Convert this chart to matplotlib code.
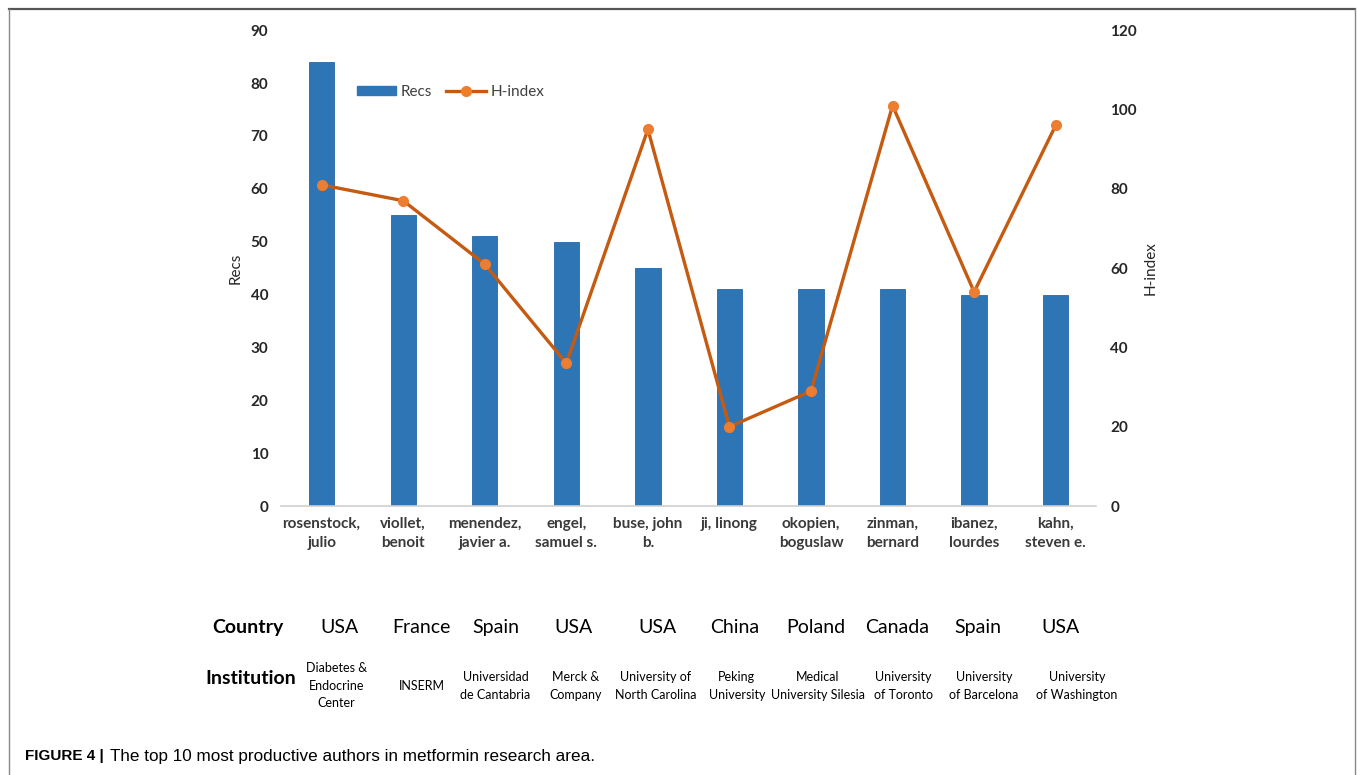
import numpy as np
import matplotlib
matplotlib.use('Agg')
import matplotlib.pyplot as plt
from matplotlib.lines import Line2D
from matplotlib.patches import Patch

plt.rcParams['font.family'] = ['Lato', 'DejaVu Sans']

# datos
authors = ['rosenstock,\njulio', 'viollet,\nbenoit', 'menendez,\njavier a.', 'engel,\nsamuel s.',
           'buse, john\nb.', 'ji, linong', 'okopien,\nboguslaw', 'zinman,\nbernard',
           'ibanez,\nlourdes', 'kahn,\nsteven e.']
recs = [84, 55, 51, 50, 45, 41, 41, 41, 40, 40]
hindex = [81, 77, 61, 36, 95, 20, 29, 101, 54, 96]
countries = ['USA', 'France', 'Spain', 'USA', 'USA', 'China', 'Poland', 'Canada', 'Spain', 'USA']
institutions = ['Diabetes &\nEndocrine\nCenter', 'INSERM', 'Universidad\nde Cantabria', 'Merck &\nCompany',
                'University of\nNorth Carolina', 'Peking\nUniversity', 'Medical\nUniversity Silesia',
                'University\nof Toronto', 'University\nof Barcelona', 'University\nof Washington']

# desplazamiento de las filas de texto bajo el grafico (en unidades de categoria)
country_shift = [0.22, 0.22, 0.13, 0.09, 0.12, 0.07, 0.06, 0.05, 0.05, 0.06]
inst_shift = [0.18, 0.23, 0.13, 0.11, 0.10, 0.09, 0.08, 0.13, 0.12, 0.26]

BLUE = '#2E75B6'
LINE = '#C55A11'
MARK = '#ED7D31'
TXT = '#262626'

fig = plt.figure(figsize=(13.57, 7.75), dpi=100)
ax = fig.add_axes([0.207, 0.347, 0.601, 0.614])
x = np.arange(len(authors))

ax.bar(x, recs, width=0.31, color=BLUE, edgecolor='#2568A8', linewidth=0.6, zorder=2)
ax.set_xlim(-0.5, len(authors) - 0.5)
ax.set_ylim(0, 90)
ax.set_yticks(range(0, 91, 10))
ax.set_xticks(x)
ax.set_xticklabels(authors, fontsize=11, fontweight='bold', color='#3a3a3a', linespacing=1.45)
ax.tick_params(axis='x', length=0, pad=8)
ax.tick_params(axis='y', length=0, pad=9, labelsize=11, labelcolor=TXT)
for lab in ax.get_yticklabels():
    lab.set_fontweight('bold')
for s in ['top', 'left', 'right']:
    ax.spines[s].set_visible(False)
ax.spines['bottom'].set_color('#d0d0d0')
ax.spines['bottom'].set_linewidth(1.2)
ax.set_ylabel('Recs', fontsize=11, color=TXT)
ax.yaxis.set_label_coords(-0.047, 0.5)

ax2 = ax.twinx()
ax2.plot(x, hindex, color=LINE, linewidth=2.4, marker='o', markersize=7,
         markerfacecolor=MARK, markeredgecolor=MARK, zorder=3)
ax2.set_ylim(0, 120)
ax2.set_yticks(range(0, 121, 20))
ax2.tick_params(axis='y', length=0, pad=10, labelsize=11, labelcolor=TXT)
for lab in ax2.get_yticklabels():
    lab.set_fontweight('bold')
for s in ax2.spines.values():
    s.set_visible(False)
ax2.set_ylabel('H-index', fontsize=11, color=TXT)
ax2.yaxis.set_label_coords(1.058, 0.5)

handles = [Patch(facecolor=BLUE, edgecolor=BLUE),
           Line2D([0], [0], color=LINE, linewidth=2.4, marker='o', markersize=7,
                  markerfacecolor=MARK, markeredgecolor=MARK)]
ax.legend(handles, ['Recs', 'H-index'], loc='center', bbox_to_anchor=(0.208, 0.87), ncol=2,
          frameon=False, fontsize=11, handlelength=2.6, handleheight=0.5, columnspacing=0.9,
          handletextpad=0.3, labelcolor='#404040')

# filas de pais e institucion
trans = ax.get_xaxis_transform()
for i in x:
    ax.text(i + country_shift[i], -0.256, countries[i], transform=trans, ha='center', va='center',
            fontsize=14, color='black', clip_on=False)
    ax.text(i + inst_shift[i], -0.378, institutions[i], transform=trans, ha='center', va='center',
            fontsize=9, color='black', linespacing=1.55, clip_on=False)
fig.text(0.183, 1 - 628 / 775, 'Country', ha='center', va='center', fontsize=14, fontweight='bold')
fig.text(0.185, 1 - 678 / 775, 'Institution', ha='center', va='center', fontsize=14, fontweight='bold')

# marco y leyenda de la figura
fig.add_artist(Line2D([9 / 1357, 1355 / 1357], [1 - 9 / 775, 1 - 9 / 775], color='#555555', linewidth=1.6))
fig.add_artist(Line2D([9 / 1357, 9 / 1357], [0, 1 - 9 / 775], color='#888888', linewidth=1.0))
fig.add_artist(Line2D([1355 / 1357, 1355 / 1357], [0, 1 - 9 / 775], color='#888888', linewidth=1.0))
fig.text(25 / 1357, 1 - 756 / 775, 'FIGURE 4 |', ha='left', va='center', fontsize=11,
         fontweight='bold', family=['Liberation Sans', 'DejaVu Sans'])
fig.text(110 / 1357, 1 - 756 / 775, 'The top 10 most productive authors in metformin research area.',
         ha='left', va='center', fontsize=12.3, family=['Liberation Sans', 'DejaVu Sans'])

fig.savefig('out.png', dpi=100)
